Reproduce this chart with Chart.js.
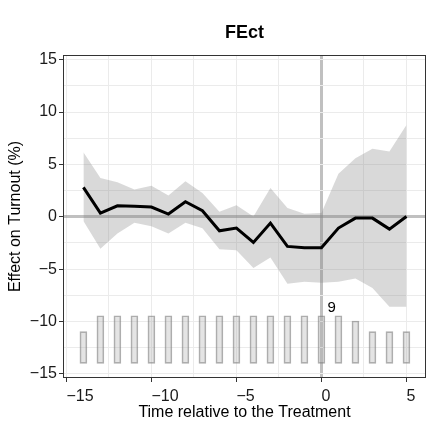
<!DOCTYPE html>
<html>
<head>
<meta charset="utf-8">
<script src="https://cdn.jsdelivr.net/npm/chart.js@4"></script>
<style>
  html, body { margin: 0; padding: 0; background: #fff; }
</style>
</head>
<body>
<canvas id="chart" width="428" height="430"></canvas>
<script>
// data
const periods = [-14, -13, -12, -11, -10, -9, -8, -7, -6, -5, -4, -3, -2, -1, 0, 1, 2, 3, 4, 5];
const effect  = [2.8, 0.35, 1.05, 1.0, 0.93, 0.26, 1.43, 0.57, -1.34, -1.08, -2.45, -0.6, -2.83, -2.96, -2.96, -1.08, -0.13, -0.13, -1.18, 0.03];
const ciUpper = [6.15, 3.7, 3.3, 2.6, 2.96, 2.04, 3.4, 2.26, 0.48, 1.1, 0.03, 2.74, 0.83, 0.29, 0.35, 4.1, 5.6, 6.5, 6.24, 8.76];
const ciLower = [-0.4, -3.05, -1.6, -0.58, -0.9, -1.6, -0.57, -1.1, -3.1, -3.2, -4.9, -3.9, -6.4, -6.2, -6.3, -6.2, -5.9, -6.8, -8.6, -8.6];
const counts  = [6, 9, 9, 9, 9, 9, 9, 9, 9, 9, 9, 9, 9, 9, 9, 9, 8, 6, 6, 6];
const xTickLabels = [-15, -10, -5, 0, 5];
const yTickLabels = [-15, -10, -5, 0, 5, 10, 15];
const countLabelPeriod = 0;
const countLabel = '9';
const titleText = 'FEct';

// count bars sit at the bottom of the panel
const barBase = -14;
const barUnit = 0.505;

const FONT = '"Liberation Sans", Arial, Helvetica, sans-serif';
Chart.defaults.font.family = FONT;
Chart.defaults.color = '#1a1a1a';

const fmt = v => (v < 0 ? '\u2212' + Math.abs(v) : String(v));

function gridTicks(lo, hi) {
  const out = [];
  for (let v = lo; v <= hi + 1e-9; v += 2.5) out.push({ value: v });
  return out;
}

const gridOpts = (labels) => ({
  offset: false,
  color: ctx => ctx.tick && ctx.tick.value === 0 ? 'rgba(140,140,140,0.55)' : '#ebebeb',
  lineWidth: ctx => ctx.tick && ctx.tick.value === 0 ? 3 : 1,
  tickColor: ctx => ctx.tick && labels.includes(ctx.tick.value) ? '#333' : 'rgba(0,0,0,0)',
  tickWidth: 1,
  tickLength: 4,
  drawTicks: true
});

const panel = {
  id: 'panel',
  afterDraw(chart) {
    const { ctx, chartArea: a, scales } = chart;
    ctx.save();
    ctx.strokeStyle = '#333';
    ctx.lineWidth = 1;
    ctx.strokeRect(a.left + 0.5, a.top + 0.5, a.width - 1, a.height - 1);

    ctx.fillStyle = '#000';
    ctx.font = 'bold 18px ' + FONT;
    ctx.textAlign = 'center';
    ctx.textBaseline = 'middle';
    ctx.fillText(titleText, (a.left + a.right) / 2, 33);

    const i = periods.indexOf(countLabelPeriod);
    const top = scales.y.getPixelForValue(barBase + counts[i] * barUnit);
    ctx.font = '15px ' + FONT;
    ctx.textAlign = 'left';
    ctx.textBaseline = 'alphabetic';
    ctx.fillText(countLabel, scales.x.getPixelForValue(countLabelPeriod) + 6, top - 4);
    ctx.restore();
  }
};

new Chart(document.getElementById('chart'), {
  type: 'line',
  data: {
    datasets: [
      {
        type: 'bar',
        data: periods.map((p, i) => ({ x: p, y: [barBase, barBase + counts[i] * barUnit] })),
        backgroundColor: 'rgba(170,170,170,0.32)',
        borderColor: 'rgba(120,120,120,0.6)',
        borderWidth: 1,
        borderSkipped: false,
        barThickness: 7,
        order: 2
      },
      {
        data: periods.map((p, i) => ({ x: p, y: ciUpper[i] })),
        borderWidth: 0,
        pointRadius: 0,
        fill: '+1',
        backgroundColor: 'rgba(128,128,128,0.3)',
        order: 3
      },
      {
        data: periods.map((p, i) => ({ x: p, y: ciLower[i] })),
        borderWidth: 0,
        pointRadius: 0,
        fill: false,
        order: 3
      },
      {
        data: periods.map((p, i) => ({ x: p, y: effect[i] })),
        borderColor: '#000',
        borderWidth: 3,
        pointRadius: 0,
        tension: 0,
        fill: false,
        order: 0
      }
    ]
  },
  options: {
    responsive: false,
    animation: false,
    layout: { padding: { top: 55, right: 2, left: 0, bottom: 0 } },
    plugins: { legend: { display: false }, tooltip: { enabled: false }, title: { display: false } },
    scales: {
      x: {
        type: 'linear',
        min: -15.2,
        max: 6.15,
        offset: false,
        afterBuildTicks: s => { s.ticks = gridTicks(-15, 5); },
        afterFit: s => { s.height = 52; s.paddingLeft = 0; s.paddingRight = 0; },
        grid: gridOpts(xTickLabels),
        border: { display: false },
        ticks: {
          autoSkip: false,
          maxRotation: 0,
          minRotation: 0,
          align: 'start',
          padding: 5,
          font: { size: 16 },
          color: '#1a1a1a',
          callback: v => xTickLabels.includes(v) ? fmt(v) : ''
        },
        title: {
          display: true,
          text: 'Time relative to the Treatment',
          font: { size: 16 },
          color: '#000',
          padding: { top: 0, bottom: 8 }
        }
      },
      y: {
        type: 'linear',
        min: -15.4,
        max: 15.45,
        afterBuildTicks: s => { s.ticks = gridTicks(-15, 15); },
        afterFit: s => { s.width = 63; s.paddingTop = 0; s.paddingBottom = 0; },
        grid: gridOpts(yTickLabels),
        border: { display: false },
        ticks: {
          autoSkip: false,
          padding: 2,
          font: { size: 16 },
          color: '#1a1a1a',
          callback: v => yTickLabels.includes(v) ? fmt(v) : ''
        },
        title: {
          display: true,
          text: 'Effect on Turnout (%)',
          font: { size: 16 },
          color: '#000',
          padding: { top: 6, bottom: 0 }
        }
      }
    }
  },
  plugins: [panel]
});
</script>
</body>
</html>
